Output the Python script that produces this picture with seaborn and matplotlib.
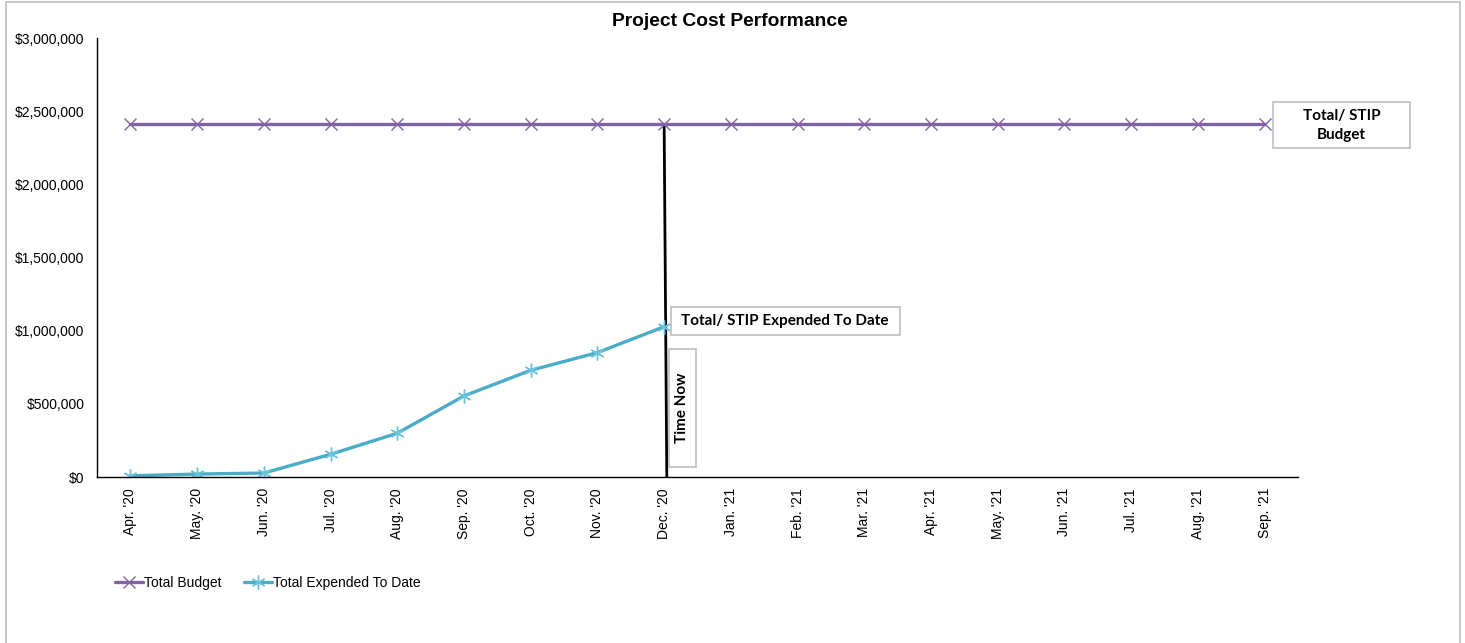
import pandas as pd
import numpy as np
import matplotlib.pyplot as plt
import matplotlib.path as mpath
from matplotlib.patches import Rectangle
from matplotlib.ticker import FuncFormatter, FixedLocator
import seaborn as sns

# chart data
months = ["Apr. '20", "May. '20", "Jun. '20", "Jul. '20", "Aug. '20", "Sep. '20",
          "Oct. '20", "Nov. '20", "Dec. '20", "Jan. '21", "Feb. '21", "Mar. '21",
          "Apr. '21", "May. '21", "Jun. '21", "Jul. '21", "Aug. '21", "Sep. '21"]
total_budget = [2410000] * 18
expended_to_date = [8000, 20000, 27000, 155000, 299000, 554000, 729000, 850000, 1027000,
                    np.nan, np.nan, np.nan, np.nan, np.nan, np.nan, np.nan, np.nan, np.nan]
time_now = "Dec. '20"

purple = "#8064A2"
cyan = "#4BACC6"


def rect_box(padx, pady):
    """Square bbox with separate padding along / across the text (fontsize units)."""
    def style(x0, y0, width, height, mutation_size):
        px, py = padx * mutation_size, pady * mutation_size
        x1, y1 = x0 + width + px, y0 + height + py
        x0, y0 = x0 - px, y0 - py
        return mpath.Path([(x0, y0), (x1, y0), (x1, y1), (x0, y1), (x0, y0)], closed=True)
    return style


df = pd.DataFrame({"month": months, "budget": total_budget, "expended": expended_to_date})
df["pos"] = np.arange(len(df))

sns.set_style("white")
plt.rcParams["font.family"] = ["Liberation Sans", "DejaVu Sans"]
plt.rcParams["text.color"] = "black"
plt.rcParams["xtick.color"] = "black"
plt.rcParams["ytick.color"] = "black"

fig = plt.figure(figsize=(14.65, 6.43), dpi=100)
ax = fig.add_axes([97 / 1465, 1 - 477 / 643, (1298 - 97) / 1465, (477 - 38) / 643])

sns.lineplot(data=df, x="pos", y="budget", ax=ax, color=purple, lw=2.4,
             marker="x", markersize=8, markeredgewidth=1.0, markeredgecolor=purple,
             label="Total Budget")
sns.lineplot(data=df.dropna(), x="pos", y="expended", ax=ax, color=cyan, lw=2.4,
             marker=(6, 2, 0), markersize=10, markeredgewidth=1.0,
             markeredgecolor="#6CC4DB", label="Total Expended To Date")

# time now line
tn = months.index(time_now)
ax.plot([tn, tn + 0.04], [total_budget[tn], 0], color="black", lw=2.0, zorder=1)

ax.set_xlim(-0.5, len(months) - 0.5)
ax.set_ylim(0, 3000000)
ax.set_xlabel("")
ax.set_ylabel("")
ax.set_xticks(df["pos"])
ax.set_xticklabels(months, rotation=90, fontsize=10)
ax.xaxis.set_minor_locator(FixedLocator(np.arange(-0.5, len(months), 1)))
ax.tick_params(axis="x", which="major", length=0, pad=8)
ax.tick_params(axis="x", which="minor", length=5, color="#808080", direction="out")
ax.set_yticks(np.arange(0, 3000001, 500000))
ax.yaxis.set_major_formatter(FuncFormatter(lambda v, p: f"${v:,.0f}"))
ax.tick_params(axis="y", length=5, color="#808080", direction="out", labelsize=10, pad=4)
ax.tick_params(axis="both", labelcolor="black")
for side in ["top", "right"]:
    ax.spines[side].set_visible(False)
for side in ["left", "bottom"]:
    ax.spines[side].set_color("black")
    ax.spines[side].set_linewidth(1.0)

fig.suptitle("Project Cost Performance", x=730 / 1465, y=1 - 21 / 643, va="center",
             fontsize=13.9, fontweight="bold", color="black")

# callouts
box_kw = dict(fc="white", ec="#BFBFBF", lw=1.2)
ax.annotate("Total/ STIP\nBudget", xy=(len(months) - 1, total_budget[-1]),
            xytext=(77, -1), textcoords="offset pixels", ha="center", va="center",
            fontsize=11, fontweight="bold", family="Lato", linespacing=1.5,
            bbox=dict(boxstyle=rect_box(1.95, 0.4), **box_kw))
ax.annotate("Total/ STIP Expended To Date", xy=(tn, expended_to_date[tn]),
            xytext=(121, 6), textcoords="offset pixels", ha="center", va="center",
            fontsize=11, fontweight="bold", family="Lato",
            bbox=dict(boxstyle=rect_box(0.7, 0.45), **box_kw))
ax.annotate("Time Now", xy=(tn, 0), xytext=(18, 69), textcoords="offset pixels",
            ha="center", va="center", rotation=90,
            fontsize=11, fontweight="bold", family="Lato",
            bbox=dict(boxstyle=rect_box(1.57, 0.42), **box_kw))

ax.get_legend().remove()
handles, labels = ax.get_legend_handles_labels()
fig.legend(handles, labels, loc="center left", bbox_to_anchor=(115 / 1465, 1 - 583 / 643),
           ncol=2, frameon=False, fontsize=10, handlelength=2.0, handletextpad=0.1,
           columnspacing=1.6, borderaxespad=0, borderpad=0)

# outer chart frame
fig.patches.append(Rectangle((6 / 1465, -0.05), (1460 - 6) / 1465, 1.05 - 2 / 643,
                             transform=fig.transFigure, fill=False, ec="#BDBDBD", lw=1.2))

fig.savefig("out.png", dpi=100)
